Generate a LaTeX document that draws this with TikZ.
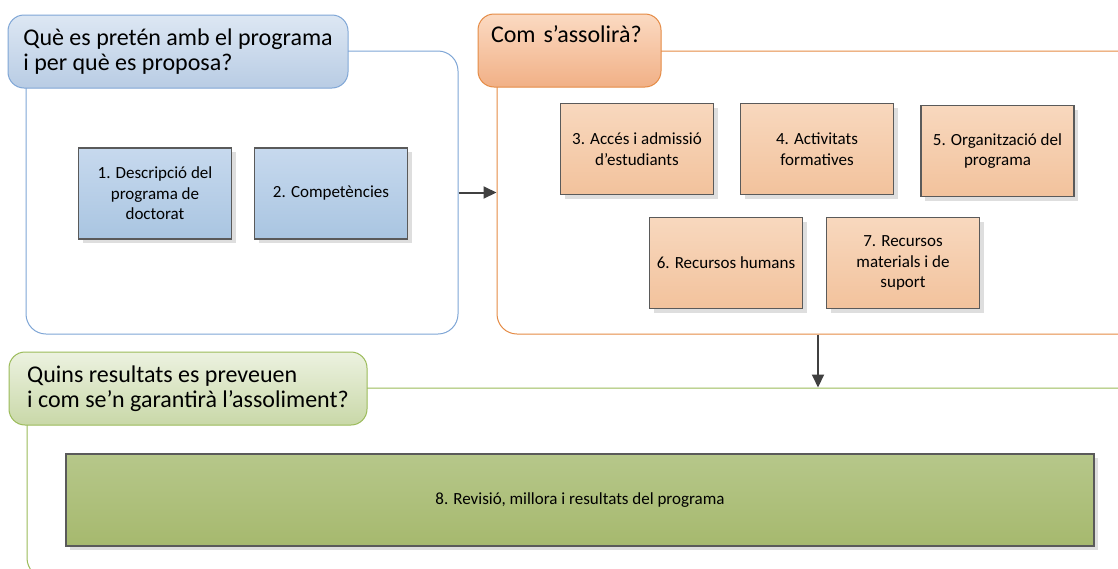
\documentclass[tikz,border=0pt]{standalone}
\usepackage{fontspec}
\setmainfont{Carlito}
\usetikzlibrary{arrows.meta,shadows}
\definecolor{blueline}{HTML}{7FA6D6}
\definecolor{bluetop}{HTML}{DDE7F3}
\definecolor{bluebot}{HTML}{B8CCE4}
\definecolor{boxbluetop}{HTML}{C7D9EE}
\definecolor{boxbluebot}{HTML}{A9C5E1}
\definecolor{orangeline}{HTML}{E58B45}
\definecolor{orangetop}{HTML}{FBDAC2}
\definecolor{orangebot}{HTML}{F1B086}
\definecolor{boxorangetop}{HTML}{F8D8BE}
\definecolor{boxorangebot}{HTML}{F2C29C}
\definecolor{greenline}{HTML}{9BBB59}
\definecolor{greentop}{HTML}{ECF2E0}
\definecolor{greenbot}{HTML}{C9D8A8}
\definecolor{boxgreentop}{HTML}{B6C78A}
\definecolor{boxgreenbot}{HTML}{A6B96E}
\definecolor{boxline}{HTML}{5A5A5A}
\definecolor{arrowgray}{HTML}{404040}
\begin{document}
\begin{tikzpicture}[
		x=1pt,y=-1pt,
		container/.style={draw,line width=1pt,rounded corners=20pt},
		header/.style={draw,line width=1pt,rounded corners=16pt,minimum height=73pt,
				align=left,inner xsep=13pt,font=\fontsize{24}{25}\selectfont},
		step box/.style={draw=boxline,line width=1.3pt,minimum width=153pt,minimum height=91pt,
				align=center,font=\fontsize{17}{20.5}\selectfont,
				drop shadow={shadow xshift=4pt,shadow yshift=-4pt,fill=black!13,opacity=1}},
		blue box/.style={step box,top color=boxbluetop,bottom color=boxbluebot},
		orange box/.style={step box,top color=boxorangetop,bottom color=boxorangebot},
		link/.style={draw=arrowgray,line width=2pt,-{Triangle[length=13pt,width=12pt]}}
	]
	\clip (0,0) rectangle (1118,568);
	\fill[white] (0,0) rectangle (1118,568);

	% what and why
	\node[container,draw=blueline,minimum width=432pt,minimum height=283pt] (whatc) at (242,192.5) {};
	\node[header,draw=blueline,top color=bluetop,bottom color=bluebot,minimum width=340pt] (whath) at (178,51.5)
		{Què es pretén amb el programa\\i per què es proposa?};
	\node[blue box] (desc) at (155,193.5) {1. Descripció del\\programa de\\doctorat};
	\node[blue box] (comp) at (331,193.5) {2. Competències};

	% how
	\node[container,draw=orangeline,minimum width=642pt,minimum height=283pt] (howc) at (818,192.5) {};
	\node[header,draw=orangeline,top color=orangetop,bottom color=orangebot,minimum width=183pt,
		text width=157pt,text depth=33pt] (howh) at (569.5,50.5) {Com s’assolirà?};
	\node[orange box] (acces) at (637,149) {3. Accés i admissió\\d’estudiants};
	\node[orange box] (activ) at (817,149) {4. Activitats\\formatives};
	\node[orange box] (organ) at (997.5,151) {5. Organització del\\programa};
	\node[orange box] (humans) at (726,263) {6. Recursos humans};
	\node[orange box] (materials) at (903,263) {7. Recursos\\materials i de\\suport};

	% results
	\node[container,draw=greenline,minimum width=1112pt,minimum height=190pt] (resc) at (583,483) {};
	\node[header,draw=greenline,top color=greentop,bottom color=greenbot,minimum width=358pt] (resh) at (188,388.5)
		{Quins resultats es preveuen\\i com se’n garantirà l’assoliment?};
	\node[step box,top color=boxgreentop,bottom color=boxgreenbot,minimum width=1028pt,minimum height=92pt] (revisio)
		at (580,500) {8. Revisió, millora i resultats del programa};

	\draw[link] (whatc.east) -- (howc.west);
	\draw[link] (howc.south) -- (howc.south |- resc.north);
\end{tikzpicture}
\end{document}
